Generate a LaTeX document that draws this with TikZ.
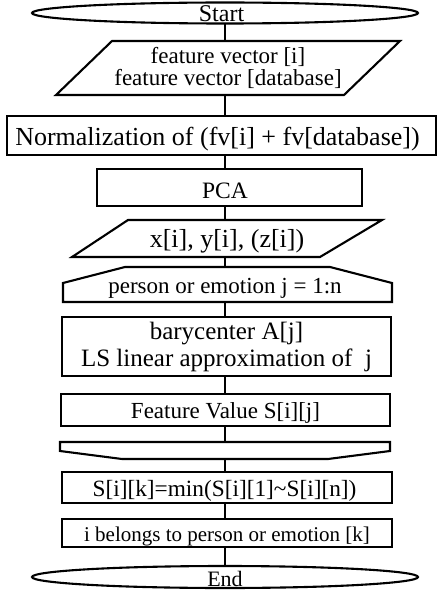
\documentclass[tikz,border=0pt]{standalone}
\usepackage{fontspec}
\setmainfont{Liberation Serif}
\usetikzlibrary{calc}

\newcommand{\fsz}[1]{\fontsize{#1}{#1}\selectfont}

\tikzset{
  outline/.style={draw=black, line width=2.1pt, line join=miter},
  frame/.style={inner sep=0pt, outer sep=0pt, align=center},
  boxed/.style={frame, outline},
  % baseline sits #1 below the node centre
  drop/.style={text height=2*#1, text depth=0pt},
  flow/.style={draw=black, line width=2.1pt},
}

\begin{document}
\begin{tikzpicture}[x=1pt, y=-1pt]
\useasboundingbox (0,0) rectangle (438,591);
\coordinate (axis) at (225,0);

% Start terminal
\node[frame, drop=8.5pt, minimum width=386pt, minimum height=22pt, font=\fsz{24}] (start) at (225,13)
  {\hspace*{-7pt}Start};
\draw[outline] (start.center) ellipse [x radius=193, y radius=10.5];

% input: feature vectors
\node[frame, minimum width=344pt, minimum height=54pt, font=\fontsize{23}{22}\selectfont] (in1) at (228,68)
  {feature vector [i]\\feature vector [database]};
\draw[outline] ($(in1.north west)+(56,0)$) -- (in1.north east)
  -- ($(in1.south east)+(-56,0)$) -- (in1.south west) -- cycle;

% normalization
\node[boxed, drop=10.5pt, minimum width=429pt, minimum height=39pt, font=\fsz{26}] (norm) at (221.5,135.5)
  {\hspace*{-8pt}Normalization of (fv[i] + fv[database])};

% PCA
\node[boxed, drop=10.5pt, minimum width=265pt, minimum height=37pt, font=\fsz{23.5}] (pca) at (229.5,187.5)
  {\hspace*{-9pt}PCA};

% input: coordinates
\node[frame, drop=8.5pt, minimum width=310pt, minimum height=37pt, font=\fsz{26}] (in2) at (227,238.5)
  {x[i], y[i], (z[i])};
\draw[outline] ($(in2.north west)+(56,0)$) -- (in2.north east)
  -- ($(in2.south east)+(-62,0)$) -- (in2.south west) -- cycle;

% loop start
\node[frame, drop=8.5pt, minimum width=329pt, minimum height=35pt, font=\fsz{23}] (loopA) at (227.5,284.5)
  {\hspace*{-5pt}person or emotion j = 1:n};
\draw[outline] (loopA.south west) -- ($(loopA.north west)+(0,16)$)
  -- ($(loopA.north west)+(62,0)$) -- ($(loopA.north east)+(-62,0)$)
  -- ($(loopA.north east)+(0,16)$) -- (loopA.south east) -- cycle;

% barycenter and approximation
\node[boxed, minimum width=329pt, minimum height=59pt, font=\fontsize{25}{27}\selectfont] (bary) at (226.5,346.5)
  {barycenter A[j]\\LS linear approximation of \ j};

% feature value
\node[boxed, drop=8.3pt, minimum width=329pt, minimum height=32pt, font=\fsz{23}] (fval) at (225.5,410)
  {Feature Value S[i][j]};

% loop end
\node[frame, minimum width=330pt, minimum height=17pt] (loopB) at (225,450.5) {};
\draw[outline] (loopB.north west) -- (loopB.north east)
  -- ($(loopB.north east)+(0,9)$) -- ($(loopB.south east)+(-62,0)$)
  -- ($(loopB.south west)+(62,0)$) -- ($(loopB.north west)+(0,9)$) -- cycle;

% minimum selection
\node[boxed, drop=9pt, minimum width=330pt, minimum height=31pt, font=\fsz{23.3}] (smin) at (227,487.5)
  {\hspace*{-5pt}S[i][k]=min(S[i][1]\textasciitilde S[i][n])};

% classification
\node[boxed, drop=8.7pt, minimum width=330pt, minimum height=28pt, font=\fsz{21}] (cls) at (227,533)
  {i belongs to person or emotion [k]};

% End terminal
\node[frame, drop=9pt, minimum width=386pt, minimum height=23pt, font=\fsz{22}] (stop) at (225,577)
  {End};
\draw[outline] (stop.center) ellipse [x radius=193, y radius=11];

% connectors along the main axis
\draw[flow] (axis |- start.south) -- (axis |- in1.north);
\draw[flow] (axis |- in1.south) -- (axis |- norm.north);
\draw[flow] (axis |- norm.south) -- (axis |- pca.north);
\draw[flow] (axis |- pca.south) -- (axis |- in2.north);
\draw[flow] (axis |- in2.south) -- (axis |- loopA.north);
\draw[flow] (axis |- loopA.south) -- (axis |- bary.north);
\draw[flow] (axis |- bary.south) -- (axis |- fval.north);
\draw[flow] (axis |- fval.south) -- (axis |- loopB.north);
\draw[flow] (axis |- loopB.south) -- (axis |- smin.north);
\draw[flow] (axis |- smin.south) -- (axis |- cls.north);
\draw[flow] (axis |- cls.south) -- (axis |- stop.north);
\end{tikzpicture}
\end{document}
